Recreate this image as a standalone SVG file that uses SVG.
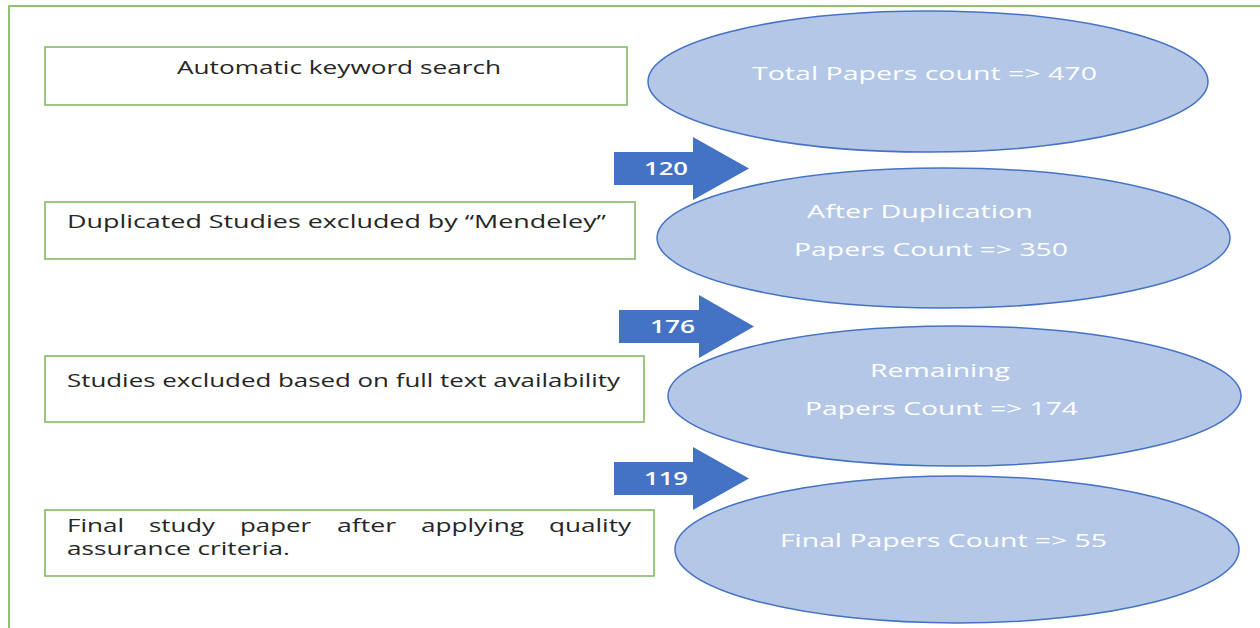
<svg xmlns="http://www.w3.org/2000/svg" width="1260" height="628" viewBox="0 0 1260 628">
  <style>
    .frame { fill: none; stroke: #70AD47; stroke-width: 1.5; }
    .step { fill: #ffffff; stroke: #7CB55A; stroke-width: 1.5; }
    .step-text { font-family: "Open Sans", "Liberation Sans", sans-serif; font-size: 18px; font-weight: 500; fill: #262626; }
    .count { fill: #B4C7E7; stroke: #4472C4; stroke-width: 1.5; }
    .count-text { font-family: "Open Sans", "Liberation Sans", sans-serif; font-size: 18.5px; font-weight: 500; fill: #ffffff; text-anchor: start; }
    .arrow { fill: #4472C4; }
    .arrow-text { font-family: "Open Sans", "Liberation Sans", sans-serif; font-size: 18px; font-weight: 600; fill: #ffffff; }
  </style>

  <rect width="1260" height="628" fill="#ffffff"/>

  <!-- outer frame, open to the right and bottom edges -->
  <rect class="frame" x="9" y="6" width="1300" height="700"/>

  <!-- process steps -->
  <g id="step-search">
    <rect class="step" x="45" y="47" width="582" height="58"/>
    <text class="step-text" x="177" y="74" textLength="324" lengthAdjust="spacingAndGlyphs">Automatic keyword search</text>
  </g>
  <g id="step-duplicates">
    <rect class="step" x="45" y="202" width="590" height="57"/>
    <text class="step-text" x="67" y="228" textLength="539" lengthAdjust="spacingAndGlyphs">Duplicated Studies excluded by “Mendeley”</text>
  </g>
  <g id="step-fulltext">
    <rect class="step" x="45" y="356" width="599" height="66"/>
    <text class="step-text" x="67" y="387" textLength="553" lengthAdjust="spacingAndGlyphs">Studies excluded based on full text availability</text>
  </g>
  <g id="step-quality">
    <rect class="step" x="45" y="510" width="609" height="66"/>
    <text class="step-text" y="532">
      <tspan x="67" textLength="57" lengthAdjust="spacingAndGlyphs">Final</tspan>
      <tspan x="149" textLength="66" lengthAdjust="spacingAndGlyphs">study</tspan>
      <tspan x="240" textLength="71" lengthAdjust="spacingAndGlyphs">paper</tspan>
      <tspan x="337" textLength="59" lengthAdjust="spacingAndGlyphs">after</tspan>
      <tspan x="421" textLength="103" lengthAdjust="spacingAndGlyphs">applying</tspan>
      <tspan x="549" textLength="82" lengthAdjust="spacingAndGlyphs">quality</tspan>
    </text>
    <text class="step-text" x="67" y="555" textLength="223" lengthAdjust="spacingAndGlyphs">assurance criteria.</text>
  </g>

  <!-- paper counts -->
  <g id="count-total">
    <ellipse class="count" cx="928" cy="81.5" rx="280" ry="70.5"/>
    <text class="count-text" x="752" y="80" textLength="345" lengthAdjust="spacingAndGlyphs">Total Papers count =&gt; 470</text>
  </g>
  <g id="count-dedup">
    <ellipse class="count" cx="943.5" cy="238" rx="286.5" ry="70"/>
    <text class="count-text" x="807" y="218" textLength="226" lengthAdjust="spacingAndGlyphs">After Duplication</text>
    <text class="count-text" x="794" y="256" textLength="274" lengthAdjust="spacingAndGlyphs">Papers Count =&gt; 350</text>
  </g>
  <g id="count-remaining">
    <ellipse class="count" cx="954.5" cy="396" rx="286.5" ry="70"/>
    <text class="count-text" x="870" y="377" textLength="140" lengthAdjust="spacingAndGlyphs">Remaining</text>
    <text class="count-text" x="805" y="415" textLength="273" lengthAdjust="spacingAndGlyphs">Papers Count =&gt; 174</text>
  </g>
  <g id="count-final">
    <ellipse class="count" cx="957" cy="549.5" rx="282" ry="73.5"/>
    <text class="count-text" x="780" y="547" textLength="327" lengthAdjust="spacingAndGlyphs">Final Papers Count =&gt; 55</text>
  </g>

  <!-- exclusion arrows -->
  <g id="connectors">
    <g id="excluded-120">
      <path class="arrow" d="M614,152 H693 V137 L749,168.5 L693,200 V185 H614 Z"/>
      <text class="arrow-text" x="644" y="175" textLength="44" lengthAdjust="spacingAndGlyphs">120</text>
    </g>
    <g id="excluded-176">
      <path class="arrow" d="M619,310 H699 V295 L754,326.5 L699,358 V343 H619 Z"/>
      <text class="arrow-text" x="650" y="333" textLength="45" lengthAdjust="spacingAndGlyphs">176</text>
    </g>
    <g id="excluded-119">
      <path class="arrow" d="M614,462 H693 V447 L749,478.5 L693,510 V495 H614 Z"/>
      <text class="arrow-text" x="644" y="485" textLength="44" lengthAdjust="spacingAndGlyphs">119</text>
    </g>
  </g>
</svg>
